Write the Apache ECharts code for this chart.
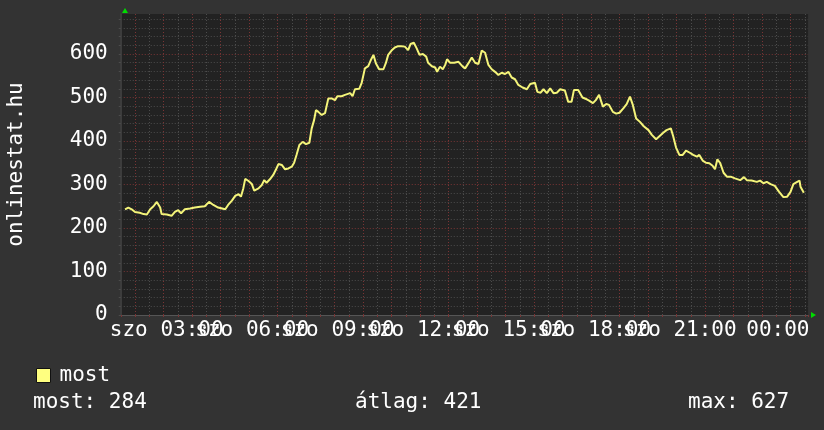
<!DOCTYPE html>
<html>
<head>
<meta charset="utf-8">
<script src="https://cdn.jsdelivr.net/npm/echarts@6/dist/echarts.min.js"></script>
<style>
  html, body { margin: 0; padding: 0; background: #333333; }
  #main { width: 824px; height: 430px; }
</style>
</head>
<body>
<div id="main"></div>
<script>
// minutes since szo 00:00
var minutes = [39, 46, 53, 60, 70, 78, 85, 92, 99, 106, 113, 116, 127, 137, 144, 151, 157, 165, 176, 186,
  197, 207, 216, 225, 235, 250, 256, 264, 271, 278, 283, 288, 292, 299, 306, 311, 320, 327, 332, 337,
  344, 351, 357, 362, 369, 376, 383, 390, 395, 400, 406, 413, 420, 427, 432, 437, 441, 446, 453, 460,
  467, 474, 481, 486, 495, 502, 513, 518, 523, 532, 537, 544, 551, 556, 562, 567, 574, 583, 588, 593,
  600, 607, 614, 621, 628, 635, 640, 647, 653, 659, 666, 673, 677, 685, 692, 696, 702, 708, 713, 717,
  723, 732, 741, 750, 755, 762, 769, 776, 783, 790, 797, 804, 811, 818, 825, 832, 839, 846, 853, 860,
  867, 876, 885, 892, 902, 907, 914, 920, 927, 934, 941, 948, 955, 965, 972, 979, 984, 993, 1002, 1011,
  1016, 1024, 1030, 1037, 1045, 1052, 1058, 1066, 1073, 1080, 1088, 1095, 1102, 1108, 1115, 1123, 1131, 1141, 1148, 1157,
  1164, 1172, 1179, 1188, 1193, 1199, 1206, 1213, 1220, 1228, 1235, 1243, 1248, 1255, 1262, 1269, 1276, 1281, 1286, 1292,
  1299, 1306, 1314, 1323, 1334, 1342, 1348, 1358, 1369, 1376, 1383, 1390, 1398, 1407, 1416, 1425, 1433, 1440, 1446, 1454,
  1459, 1461, 1468];
var values = [243, 247, 243, 237, 235, 232, 231, 243, 250, 260, 247, 232, 231, 228, 237, 241, 234, 243, 245, 247,
  249, 250, 260, 253, 247, 243, 253, 263, 274, 278, 272, 291, 313, 308, 301, 286, 291, 299, 310, 304,
  312, 322, 335, 347, 345, 335, 337, 341, 350, 368, 391, 398, 393, 396, 429, 448, 471, 467, 460, 464,
  498, 498, 494, 503, 503, 506, 510, 503, 519, 520, 533, 567, 572, 585, 598, 579, 565, 565, 579, 598,
  608, 615, 618, 618, 617, 609, 623, 626, 613, 598, 600, 594, 580, 572, 569, 559, 571, 565, 575, 588,
  580, 580, 582, 571, 567, 579, 592, 580, 577, 608, 603, 575, 565, 559, 552, 557, 554, 559, 546, 542,
  529, 523, 519, 531, 534, 513, 511, 519, 510, 521, 510, 511, 519, 516, 490, 490, 517, 517, 500, 496,
  493, 487, 494, 506, 479, 485, 483, 467, 463, 465, 475, 485, 502, 483, 452, 444, 434, 425, 414, 404,
  411, 419, 425, 429, 411, 385, 368, 368, 378, 373, 368, 364, 368, 355, 350, 349, 343, 335, 358, 349,
  327, 318, 318, 314, 310, 317, 310, 309, 306, 309, 303, 306, 301, 297, 283, 271, 272, 283, 301, 306,
  309, 295, 281];
var dayName = 'szo';
var labelHours = [3, 6, 9, 12, 15, 18, 21, 24];
var statLabels = ['most', 'átlag', 'max'];
var statValues = [284, 421, 627];
var seriesName = 'most';
var axisTitle = 'onlinestat.hu';

var mono = 'DejaVu Sans Mono';
var red = '#7a3434';
var grey = '#4c4c4c';

function pad2 (n) { return (n < 10 ? '0' : '') + n; }

var chart = echarts.init(document.getElementById('main'));
chart.setOption({
  animation: false,
  backgroundColor: '#333333',
  grid: {
    left: 120.75, right: 15.9, top: 14, bottom: 115,
    containLabel: false, outerBoundsMode: 'none',
    show: true, backgroundColor: '#222222', borderWidth: 0
  },
  legend: {
    data: [seriesName],
    left: 31, top: 360,
    icon: 'rect', itemWidth: 14, itemHeight: 14,
    itemStyle: { borderColor: '#111', borderWidth: 1 },
    textStyle: { color: '#fff', fontFamily: mono, fontSize: 21, padding: [0, 0, 0, 4] }
  },
  xAxis: {
    type: 'value',
    min: 30, max: 1477, interval: 30,
    axisLine: { show: true, lineStyle: { color: '#555', width: 1 } },
    axisTick: { show: true, length: 2, lineStyle: { color: red } },
    splitLine: {
      show: true, showMinLine: false, showMaxLine: false,
      lineStyle: { color: [red, grey], type: [1, 2], width: 1 }
    },
    axisLabel: {
      color: '#fff', fontFamily: mono, fontSize: 21, margin: 5,
      showMinLabel: true, showMaxLabel: true, hideOverlap: false,
      formatter: function (v) {
        var h = v / 60;
        if (labelHours.indexOf(h) < 0) return '';
        if (h === 24) return '00:00  ';
        return dayName + ' ' + pad2(h) + ':00    ';
      }
    }
  },
  yAxis: {
    type: 'value',
    min: 0, max: 692, interval: 20,
    name: axisTitle, nameLocation: 'middle', nameGap: 94,
    nameTextStyle: { color: '#fff', fontFamily: mono, fontSize: 21 },
    axisLine: { show: true, lineStyle: { color: '#3c3c3c', width: 2 } },
    axisTick: { show: true, length: 2, lineStyle: { color: grey } },
    splitLine: {
      show: true, showMinLine: false, showMaxLine: false,
      lineStyle: { color: [grey, grey, grey, grey, red], type: [1, 2], width: 1 }
    },
    axisLabel: {
      color: '#fff', fontFamily: mono, fontSize: 21, margin: 13,
      showMaxLabel: false,
      formatter: function (v) { return v % 100 === 0 ? String(v) : ''; }
    }
  },
  graphic: [
    { type: 'polygon', shape: { points: [[122, 13], [128, 13], [125, 8]] }, style: { fill: '#00dd00' } },
    { type: 'polygon', shape: { points: [[811, 312], [811, 318], [816, 315]] }, style: { fill: '#00dd00' } },
    { type: 'text', left: 33, top: 392, style: { text: statLabels[0] + ': ' + statValues[0], fill: '#fff', font: '21px ' + mono } },
    { type: 'text', left: 355, top: 392, style: { text: statLabels[1] + ': ' + statValues[1], fill: '#fff', font: '21px ' + mono } },
    { type: 'text', left: 688, top: 392, style: { text: statLabels[2] + ': ' + statValues[2], fill: '#fff', font: '21px ' + mono } }
  ],
  series: [{
    name: seriesName,
    type: 'line',
    data: minutes.map(function (m, i) { return [m, values[i]]; }),
    showSymbol: false,
    color: '#ffff80',
    lineStyle: { color: '#f4f47a', width: 2 }
  }]
});
</script>
</body>
</html>
